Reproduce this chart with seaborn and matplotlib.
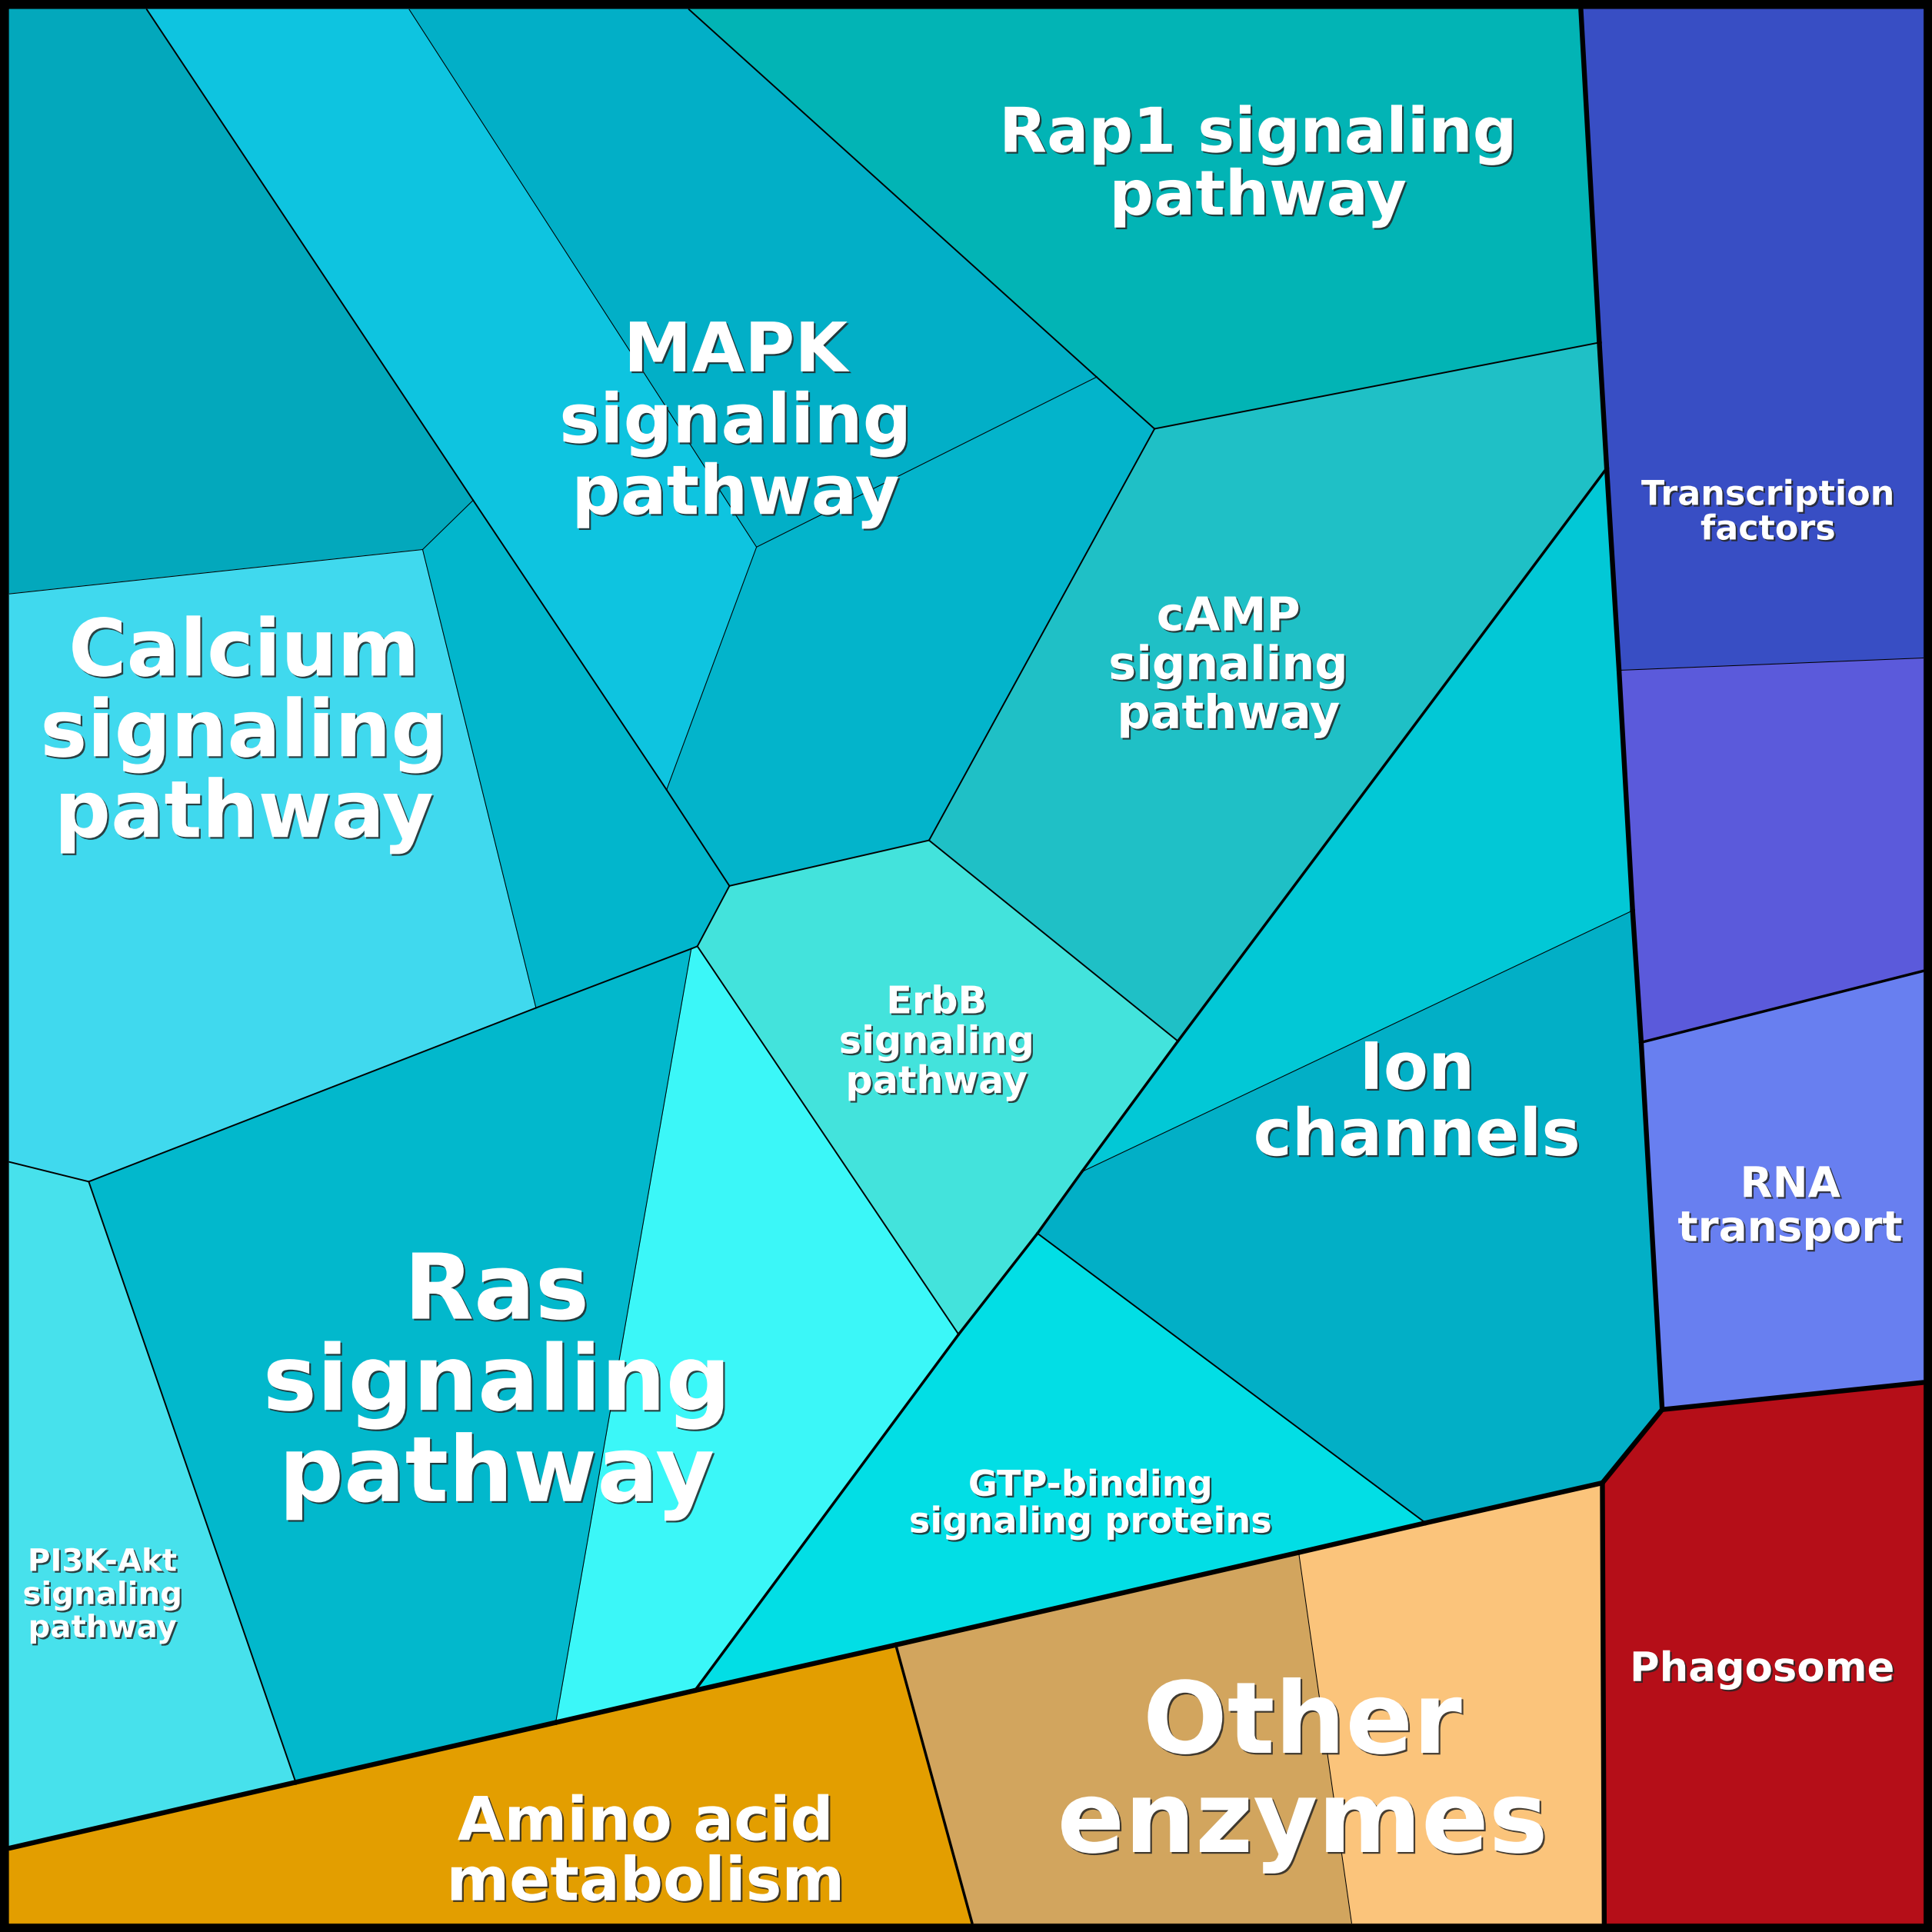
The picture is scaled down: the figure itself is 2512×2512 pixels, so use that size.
import matplotlib
matplotlib.use("Agg")
import matplotlib.pyplot as plt
import matplotlib.patheffects as pe
from matplotlib.patches import Polygon
from matplotlib.collections import LineCollection
import seaborn as sns

sns.set_theme(style="white")
plt.rcParams["font.family"] = ["DejaVu Sans"]

# ---------------- data ----------------
cells = ["tl", "calcium", "mid", "mapk_l", "mapk", "mapk_b", "rap1", "camp",
         "erbb", "cyan_b", "ras", "pi3k", "cyan_t", "ion", "gtp",
         "tf", "purple", "rna", "phago", "amino", "oth_a", "oth_b"]

# hierarchy: (level1, level2, level3)
cell_path = {
    "tl": ("Env", "Trans", "G1"), "calcium": ("Env", "Trans", "G1"), "mid": ("Env", "Trans", "G1"),
    "mapk_l": ("Env", "Trans", "G2"), "mapk": ("Env", "Trans", "G2"), "mapk_b": ("Env", "Trans", "G2"),
    "rap1": ("Env", "Trans", "G3"), "camp": ("Env", "Trans", "G4"), "erbb": ("Env", "Trans", "G5"),
    "cyan_b": ("Env", "Trans", "G6"), "ras": ("Env", "Trans", "G6"), "pi3k": ("Env", "Trans", "G7"),
    "cyan_t": ("Env", "Mol", "M1"), "ion": ("Env", "Mol", "M1"), "gtp": ("Env", "Mol", "M2"),
    "tf": ("Gen", "GA", "GA1"), "purple": ("Gen", "GA", "GA1"), "rna": ("Gen", "GB", "GB1"),
    "phago": ("Cell", "C", "C1"),
    "amino": ("Met", "MA", "MA1"), "oth_a": ("Met", "MB", "MB1"), "oth_b": ("Met", "MB", "MB1"),
}

cell_color = {
    "tl": "#03A8BC", "calcium": "#40D9EE", "mid": "#02B6CC",
    "mapk_l": "#0EC4E0", "mapk": "#02AFC7", "mapk_b": "#03B4CB",
    "rap1": "#02B4B5", "camp": "#1FC0C6", "erbb": "#43E3DC",
    "cyan_b": "#3BF7F8", "ras": "#02B8CC", "pi3k": "#47E1EC",
    "cyan_t": "#02C8D6", "ion": "#02AFC6", "gtp": "#02DEE5",
    "tf": "#384EC4", "purple": "#5B5ADB", "rna": "#687FF0",
    "phago": "#B50E18", "amino": "#E39E00", "oth_a": "#D2A55E", "oth_b": "#FBC47B",
}

# Voronoi treemap vertices (layout geometry, reference frame 0..1568)
vertices = {
    "C_TL": (7.5, 7.5), "TR": (1561, 7.5), "BR": (1561, 1561), "BL": (7.5, 1561),
    "a": (119, 7.5), "b": (332, 7.5), "c": (559, 7.5), "d": (1283, 7.5),
    "e": (7.5, 482), "f": (7.5, 943), "g": (7.5, 1500),
    "h": (1561, 534), "i": (1561, 788), "j": (1561, 1122),
    "k": (789, 1561), "l": (1097, 1561), "m": (1302, 1561),
    "p1": (384, 406), "p2": (343, 446), "p3": (435, 818), "p4": (72, 959),
    "p5": (240, 1446.5), "p6": (614, 444), "p7": (890, 306), "p8": (937, 348),
    "p9": (1298, 278), "p10": (1304, 380), "p11": (541, 641), "p12": (592, 719),
    "p13": (754, 682), "p14": (956, 845), "p15": (566, 768), "p16": (561, 770),
    "p17": (451, 1398), "p18": (778, 1083), "p19": (564, 1372), "p20": (878, 951),
    "p21": (842, 1001), "p22": (1325, 739), "p23": (1157, 1236),
    "s1": (1314, 544), "s2": (1332, 846), "q1": (1349, 1144), "q2": (1300.5, 1203.5),
    "r1": (727, 1335), "r2": (1054, 1260),
}

cell_vertices = {
    "tl": ["C_TL", "a", "p1", "p2", "e"],
    "mapk_l": ["a", "b", "p6", "p11", "p1"],
    "mapk": ["b", "c", "p7", "p6"],
    "rap1": ["c", "d", "p9", "p8", "p7"],
    "mapk_b": ["p6", "p7", "p8", "p13", "p12", "p11"],
    "camp": ["p8", "p9", "p10", "p14", "p13"],
    "mid": ["p1", "p11", "p12", "p15", "p16", "p3", "p2"],
    "calcium": ["e", "p2", "p3", "p4", "f"],
    "erbb": ["p12", "p13", "p14", "p20", "p21", "p18", "p15"],
    "cyan_b": ["p16", "p15", "p18", "p19", "p17"],
    "ras": ["p4", "p3", "p16", "p17", "p5"],
    "pi3k": ["f", "p4", "p5", "g"],
    "cyan_t": ["p10", "s1", "p22", "p20", "p14"],
    "ion": ["p20", "p22", "s2", "q1", "q2", "p23", "p21"],
    "gtp": ["p21", "p23", "r2", "r1", "p19", "p18"],
    "tf": ["d", "TR", "h", "s1", "p10", "p9"],
    "purple": ["s1", "h", "i", "s2", "p22"],
    "rna": ["s2", "i", "j", "q1"],
    "phago": ["q1", "j", "BR", "m", "q2"],
    "amino": ["g", "p5", "p17", "p19", "r1", "k", "BL"],
    "oth_a": ["r1", "r2", "l", "k"],
    "oth_b": ["r2", "p23", "q2", "m", "l"],
}

labels = ["Rap1 signaling\npathway", "MAPK\nsignaling\npathway", "Calcium\nsignaling\npathway",
          "Ras\nsignaling\npathway", "Other\nenzymes", "Ion\nchannels", "Amino acid\nmetabolism",
          "cAMP\nsignaling\npathway", "ErbB\nsignaling\npathway", "GTP-binding\nsignaling proteins",
          "Transcription\nfactors", "RNA\ntransport", "Phagosome", "PI3K-Akt\nsignaling\npathway"]
label_size = [58, 64, 74, 85, 93, 61, 56.5, 43.5, 35.5, 33.3, 32, 39.5, 38, 29]
label_spacing = [1.05, 1.08, 1.05, 1.04, 1.04, 1.05, 1.04, 1.1, 1.1, 1.08, 1.06, 1.08, 1.0, 1.1]
label_anchor = [(1021, 135), (597, 344), (198, 596), (403, 1124), (1057, 1441), (1150, 896),
                (524, 1504), (997, 541), (760, 846), (885, 1221), (1435, 416), (1453, 980),
                (1430, 1355), (83, 1295)]

# ---------------- drawing ----------------
fig = plt.figure(figsize=(25.12, 25.12), dpi=100)
fig.patch.set_facecolor("black")
ax = fig.add_axes([0, 0, 1, 1])
ax.set_xlim(0, 1568)
ax.set_ylim(1568, 0)
ax.set_axis_off()

for cname in cells:
    pts = [vertices[v] for v in cell_vertices[cname]]
    col = cell_color[cname]
    ax.add_patch(Polygon(pts, closed=True, facecolor=col, edgecolor=col,
                         linewidth=0.6, joinstyle="miter"))

# shared edges -> line width from depth of common ancestor
edge_cells = {}
for cname in cells:
    vs = cell_vertices[cname]
    for n in range(len(vs)):
        key = frozenset((vs[n], vs[(n + 1) % len(vs)]))
        edge_cells.setdefault(key, []).append(cname)

widths = {0: 4.6, 1: 2.5, 2: 1.4, 3: 0.75}
segs_by_level = {0: [], 1: [], 2: [], 3: []}
for key, owners in edge_cells.items():
    if len(owners) < 2:
        continue
    pa, pb = cell_path[owners[0]], cell_path[owners[1]]
    common = 0
    for x1, x2 in zip(pa, pb):
        if x1 == x2:
            common += 1
        else:
            break
    va, vb = tuple(key)
    segs_by_level[common].append([vertices[va], vertices[vb]])

for lev in [3, 2, 1, 0]:
    if segs_by_level[lev]:
        ax.add_collection(LineCollection(segs_by_level[lev], colors="black",
                                         linewidths=widths[lev], capstyle="round",
                                         joinstyle="round", zorder=3 + (3 - lev)))

shadow = [pe.withSimplePatchShadow(offset=(1.6, -1.6), shadow_rgbFace=(0.15, 0.15, 0.15), alpha=0.85)]
for txt, size, ls, (x, y) in zip(labels, label_size, label_spacing, label_anchor):
    ax.text(x, y, txt, ha="center", va="center", multialignment="center",
            fontsize=size, fontweight="bold", color="white", linespacing=ls,
            zorder=10, path_effects=shadow)

fig.savefig("out.png", dpi=100, facecolor=fig.get_facecolor())
